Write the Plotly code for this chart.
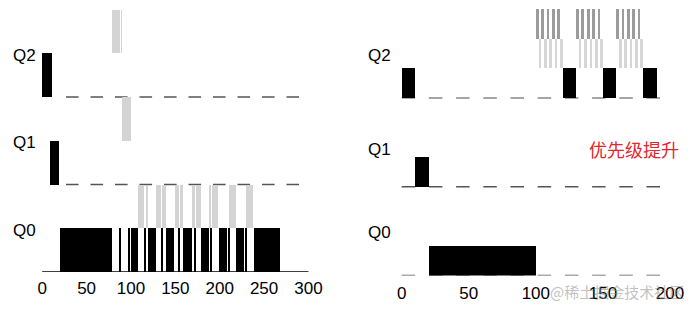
import plotly.graph_objects as go

# ---------------- data ----------------
# Left panel (without priority boost): rows Q0/Q1/Q2 at levels 0/2/4, bar height 1
left_levels = [0, 2, 4]
left_labels = ["Q0", "Q1", "Q2"]
left_black_q2 = [(0, 10.7)]
left_black_q1 = [(9, 19)]
left_black_q0 = [(19.5, 78.5), (87.5, 88.8), (97.5, 98.8), (100, 108.5), (115, 116.5),
                 (119, 128), (133.9, 135), (139.5, 149), (154, 155.5), (159, 168.5),
                 (172, 173.2), (178.5, 188), (190, 191.3), (199, 208.5), (209.5, 210.8),
                 (218.5, 227.5), (228.7, 230), (238.5, 268)]
left_gray_q2 = [(78.7, 87.5), (88.8, 89.8)]
left_gray_q1 = [(89.8, 97.5), (98.8, 100.5)]
left_gray_q0 = [(108.5, 115), (116.5, 118.8), (128.2, 133.9), (135, 139.5), (149.5, 154),
                (155.5, 159), (168.5, 172), (173.2, 178.5), (188, 190), (191.3, 198.5),
                (210.8, 218.5), (230, 238)]
left_dash_span = (26.8, 289.4)
left_axis_span = (0, 300)
left_xticks = [0, 50, 100, 150, 200, 250, 300]

# Right panel (with priority boost): rows at levels 0/3/6, bar height 1
right_levels = [0, 3, 6]
right_labels = ["Q0", "Q1", "Q2"]
right_label_y = [1.44, 4.27, 7.42]
right_black_q2 = [(0, 10), (120, 130), (150, 160), (180, 190)]
right_black_q1 = [(10, 20)]
right_black_q0 = [(20, 100)]
right_dark_starts = [100, 104, 108, 112, 116, 130, 134, 138, 142, 146, 160, 164, 168, 172, 176]
right_light_starts = [102, 106, 110, 114, 118, 132, 136, 140, 144, 148, 162, 166, 170, 174, 178]
right_stripe_width = 2
right_dash_span = (0, 193)
right_xticks = [0, 50, 100, 150, 200]

boost_text = "优先级提升"
watermark = "@稀土掘金技术社区"

# ---------------- figure ----------------
W, H = 694, 309
fig = go.Figure()

BLACK = "#000000"
GRAY_L = "#d4d4d4"
GRAY_D = "#9c9c9c"
GRAY_R_L = "#d6d6d6"


def add_segs(segs, base, color, xa, ya):
    if not segs:
        return
    fig.add_trace(go.Bar(
        x=[(s + e) / 2 for s, e in segs],
        width=[e - s for s, e in segs],
        y=[1] * len(segs),
        base=[base] * len(segs),
        marker=dict(color=color, line=dict(width=0)),
        xaxis=xa, yaxis=ya, hoverinfo="skip", showlegend=False,
    ))


# left panel bars
add_segs(left_black_q0, left_levels[0], BLACK, "x", "y")
add_segs(left_black_q1, left_levels[1], BLACK, "x", "y")
add_segs(left_black_q2, left_levels[2], BLACK, "x", "y")
add_segs(left_gray_q0, left_levels[0] + 1, GRAY_L, "x", "y")
add_segs(left_gray_q1, left_levels[1] + 1, GRAY_L, "x", "y")
add_segs(left_gray_q2, left_levels[2] + 1, GRAY_L, "x", "y")

# right panel bars
add_segs(right_black_q0, right_levels[0], BLACK, "x2", "y2")
add_segs(right_black_q1, right_levels[1], BLACK, "x2", "y2")
add_segs(right_black_q2, right_levels[2], BLACK, "x2", "y2")
add_segs([(s, s + right_stripe_width) for s in right_light_starts], right_levels[2] + 1, GRAY_R_L, "x2", "y2")
add_segs([(s, s + right_stripe_width) for s in right_dark_starts], right_levels[2] + 2, GRAY_D, "x2", "y2")

shapes = []
# left baselines
for lv in left_levels[1:]:
    shapes.append(dict(type="line", xref="x", yref="y", x0=left_dash_span[0], x1=left_dash_span[1],
                       y0=lv, y1=lv, layer="below",
                       line=dict(color="#555555", width=1.5, dash="12.6px,11.9px")))
shapes.append(dict(type="line", xref="x", yref="y", x0=left_axis_span[0], x1=left_axis_span[1],
                   y0=0, y1=0, layer="below", line=dict(color="#000000", width=1.5)))
# right baselines
for lv, col in zip(right_levels, ["#555555", "#555555", "#888888"]):
    shapes.append(dict(type="line", xref="x2", yref="y2", x0=right_dash_span[0], x1=right_dash_span[1],
                       y0=lv, y1=lv, layer="below",
                       line=dict(color=col, width=1.5, dash="13.5px,13.7px")))

annotations = []
for lv, lab in zip(left_levels, left_labels):
    annotations.append(dict(x=-19.4, y=lv + 0.96, xref="x", yref="y", text=lab, showarrow=False,
                            font=dict(size=17, color="black", family="Liberation Sans, Arial"),
                            xanchor="center", yanchor="middle"))
for ly, lab in zip(right_label_y, right_labels):
    annotations.append(dict(x=-16.2, y=ly, xref="x2", yref="y2", text=lab, showarrow=False,
                            font=dict(size=17, color="black", family="Liberation Sans, Arial"),
                            xanchor="center", yanchor="middle"))
annotations.append(dict(x=634 / W, y=1 - 148.5 / H, xref="paper", yref="paper", text=boost_text,
                        showarrow=False, xanchor="center", yanchor="middle",
                        font=dict(size=18, color="#e3262b", family="Noto Sans CJK SC")))
annotations.append(dict(x=617 / W, y=1 - 291 / H, xref="paper", yref="paper", text=watermark,
                        showarrow=False, xanchor="center", yanchor="middle",
                        font=dict(size=15, color="rgba(140,140,140,0.55)", family="Noto Sans CJK SC")))

tickfont = dict(size=17, color="black", family="Liberation Sans, Arial")
# pixel calibration
L_x0, L_scale = 42.2, 0.8875
R_x0, R_scale = 401.7, 1.3415
L_dom = (0, 330)
R_dom = (340, 694)

fig.update_layout(
    width=W, height=H, margin=dict(l=0, r=0, t=0, b=0),
    paper_bgcolor="white", plot_bgcolor="white",
    barmode="overlay", bargap=0, showlegend=False,
    shapes=shapes, annotations=annotations,
    xaxis=dict(domain=[L_dom[0] / W, L_dom[1] / W],
               range=[(L_dom[0] - L_x0) / L_scale, (L_dom[1] - L_x0) / L_scale],
               tickvals=left_xticks, ticktext=[str(v) for v in left_xticks],
               showgrid=False, zeroline=False, showline=False,
               ticks="outside", ticklen=1, tickcolor="rgba(0,0,0,0)",
               tickfont=tickfont, anchor="y", fixedrange=True),
    yaxis=dict(domain=[(H - 272) / H, 1], range=[0, 272 / 43.75], visible=False,
               anchor="x", fixedrange=True),
    xaxis2=dict(domain=[R_dom[0] / W, R_dom[1] / W],
                range=[(R_dom[0] - R_x0) / R_scale, (R_dom[1] - R_x0) / R_scale],
                tickvals=right_xticks, ticktext=[str(v) for v in right_xticks],
                showgrid=False, zeroline=False, showline=False,
                ticks="outside", ticklen=2, tickcolor="rgba(0,0,0,0)",
                tickfont=tickfont, anchor="y2", fixedrange=True),
    yaxis2=dict(domain=[(H - 275.5) / H, 1], range=[0, 275.5 / 29.6], visible=False,
                anchor="x2", fixedrange=True),
)

fig.write_html("out.html")
